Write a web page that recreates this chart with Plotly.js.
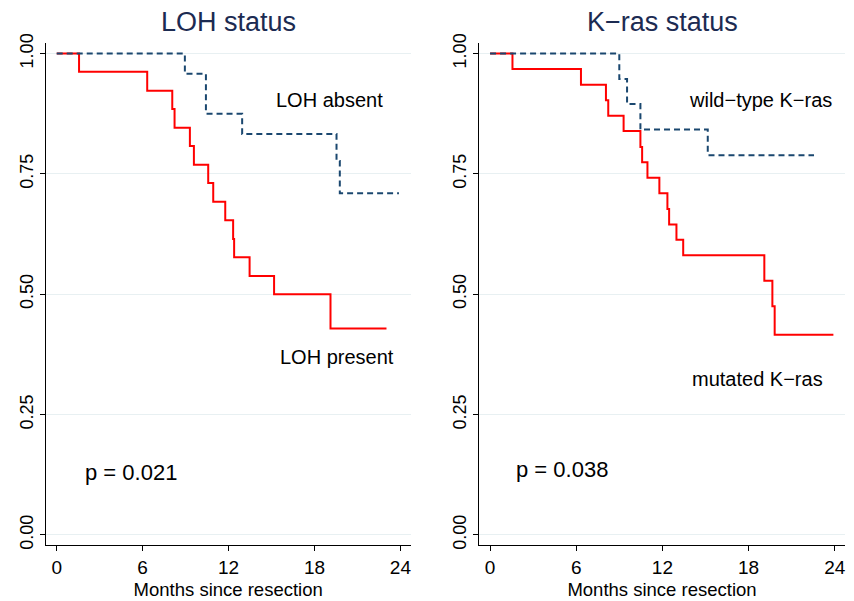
<!DOCTYPE html>
<html>
<head>
<meta charset="utf-8">
<script src="https://cdn.plot.ly/plotly-3.0.1.min.js"></script>
<style>html,body{margin:0;padding:0;background:#fff;}#chart{width:854px;height:601px;}</style>
</head>
<body>
<div id="chart"></div>
<script>
// ---- Data ----
const panelTitles = ["LOH status", "K\u2212ras status"];
const xTickVals = [0, 6, 12, 18, 24];
const yTickVals = [0, 0.25, 0.5, 0.75, 1];
const yTickText = ["0.00", "0.25", "0.50", "0.75", "1.00"];
const xAxisTitle = "Months since resection";

// Left panel: LOH status
const lohPresentT = [0, 1.56, 6.32, 8.07, 8.23, 9.30, 9.58, 10.58, 10.93, 11.77, 12.32, 12.39, 13.47, 15.18, 19.12, 23.03];
const lohPresentS = [1, 0.962, 0.923, 0.885, 0.846, 0.808, 0.769, 0.731, 0.692, 0.654, 0.615, 0.577, 0.538, 0.500, 0.429, 0.429];
const lohAbsentT = [0, 8.95, 10.42, 12.95, 19.54, 19.77, 23.9];
const lohAbsentS = [1, 0.958, 0.875, 0.833, 0.777, 0.710, 0.710];

// Right panel: K-ras status
const krasMutT = [0, 1.56, 6.33, 8.07, 8.23, 9.30, 10.47, 10.59, 10.96, 11.79, 12.35, 12.47, 12.98, 13.45, 19.10, 19.66, 19.82, 23.91];
const krasMutS = [1, 0.968, 0.935, 0.903, 0.871, 0.839, 0.806, 0.774, 0.742, 0.710, 0.677, 0.645, 0.613, 0.581, 0.528, 0.475, 0.416, 0.416];
const krasWildT = [0, 9.0, 9.54, 10.47, 15.16, 22.56];
const krasWildS = [1, 0.947, 0.895, 0.842, 0.789, 0.789];

const labels = {
  lohAbsent: "LOH absent", lohPresent: "LOH present", pLoh: "p = 0.021",
  wild: "wild\u2212type K\u2212ras", mutated: "mutated K\u2212ras", pKras: "p = 0.038"
};

// ---- Styles ----
const RED = "#ff0000", NAVY = "#1a476f", FONT = "Liberation Sans, Arial, Helvetica, sans-serif";
const redLine = {color: RED, width: 2, shape: "hv"};
const navyLine = {color: NAVY, width: 2, shape: "hv", dash: "6px,4px"};

const traces = [
  {x: lohPresentT, y: lohPresentS, xaxis: "x", yaxis: "y", mode: "lines", line: redLine, hoverinfo: "skip"},
  {x: lohAbsentT, y: lohAbsentS, xaxis: "x", yaxis: "y", mode: "lines", line: navyLine, hoverinfo: "skip"},
  {x: krasMutT, y: krasMutS, xaxis: "x2", yaxis: "y2", mode: "lines", line: redLine, hoverinfo: "skip"},
  {x: krasWildT, y: krasWildS, xaxis: "x2", yaxis: "y2", mode: "lines", line: navyLine, hoverinfo: "skip"}
];

function xAx(domain, anchor) {
  return {
    domain: domain, anchor: anchor, range: [-0.77, 24.72],
    tickvals: xTickVals, ticks: "outside", ticklen: 5, tickcolor: "#000", tickwidth: 1,
    showline: true, linecolor: "#000", linewidth: 1, showgrid: false, zeroline: false,
    tickfont: {family: FONT, size: 19, color: "#000"},
    title: {text: xAxisTitle, font: {family: FONT, size: 18.5, color: "#000"}, standoff: 6},
    fixedrange: true
  };
}
function yAx(anchor) {
  return {
    domain: [0.0932, 0.9285], anchor: anchor, range: [-0.0208, 1.022],
    tickvals: yTickVals, ticktext: yTickText, tickangle: -90,
    ticks: "outside", ticklen: 5, tickcolor: "#000", tickwidth: 1,
    showline: true, linecolor: "#000", linewidth: 1,
    showgrid: true, gridcolor: "#e8f0f2", gridwidth: 1, zeroline: false,
    tickfont: {family: FONT, size: 18, color: "#000"},
    fixedrange: true
  };
}

function ann(text, x, y, xref, yref, size, color) {
  return {text: text, x: x, y: y, xref: xref, yref: yref, showarrow: false,
          xanchor: "center", yanchor: "middle", font: {family: FONT, size: size, color: color || "#000"}};
}

const layout = {
  width: 854, height: 601,
  margin: {l: 0, r: 0, t: 0, b: 0},
  paper_bgcolor: "#fff", plot_bgcolor: "#fff",
  showlegend: false,
  xaxis: xAx([0.0535, 0.4809], "y"),
  yaxis: yAx("x"),
  xaxis2: xAx([0.5609, 0.9895], "y2"),
  yaxis2: yAx("x2"),
  annotations: [
    ann(panelTitles[0], 0.2672, 0.9634, "paper", "paper", 27, "#1c2b52"),
    ann(panelTitles[1], 0.7752, 0.9634, "paper", "paper", 27, "#1c2b52"),
    ann(labels.lohAbsent, 19.07, 0.904, "x", "y", 20),
    ann(labels.lohPresent, 19.6, 0.370, "x", "y", 20),
    ann(labels.pLoh, 5.22, 0.129, "x", "y", 22),
    ann(labels.wild, 18.84, 0.904, "x2", "y2", 20),
    ann(labels.mutated, 18.6, 0.324, "x2", "y2", 20),
    ann(labels.pKras, 5.02, 0.135, "x2", "y2", 22)
  ]
};

Plotly.newPlot("chart", traces, layout, {staticPlot: true, displayModeBar: false});
</script>
</body>
</html>
